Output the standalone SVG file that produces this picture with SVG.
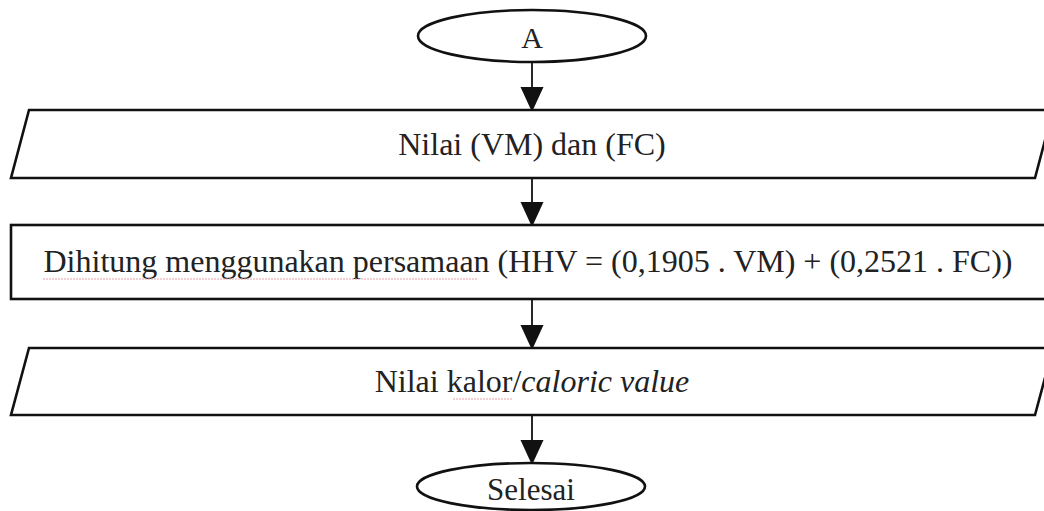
<svg xmlns="http://www.w3.org/2000/svg" width="1044" height="511" viewBox="0 0 1044 511">
<defs>
<style>
.shape{fill:#fff;stroke:#111;stroke-width:2.6}
.lbl{font-family:"Liberation Serif","Times New Roman",serif;font-size:32px;fill:#222;text-anchor:middle}
.conn{stroke:#111;stroke-width:1.8;fill:none}
.spell{stroke:#e8a0a8;stroke-width:1;fill:none;stroke-dasharray:2 1}
</style>
<marker id="arr" markerWidth="23" markerHeight="25" refX="23" refY="11.5" orient="auto" markerUnits="userSpaceOnUse">
<path d="M0,0 L25,11.5 L0,23 Z" fill="#111"/>
</marker>
</defs>
<rect width="1044" height="511" fill="#fff"/>
<g id="connectors">
<line class="conn" x1="532" y1="62" x2="532" y2="110" marker-end="url(#arr)"/>
<line class="conn" x1="532" y1="178" x2="532" y2="225" marker-end="url(#arr)"/>
<line class="conn" x1="532" y1="299" x2="532" y2="348" marker-end="url(#arr)"/>
<line class="conn" x1="532" y1="415" x2="532" y2="463" marker-end="url(#arr)"/>
</g>
<g id="start">
<ellipse class="shape" cx="532" cy="36" rx="114" ry="26"/>
<text class="lbl" x="532" y="48" style="font-size:30px">A</text>
</g>
<g id="input1">
<polygon class="shape" points="29,110 1053,110 1035,178 11,178"/>
<text class="lbl" x="532" y="155">Nilai (VM) dan (FC)</text>
</g>
<g id="process">
<rect class="shape" x="11" y="225" width="1045" height="74"/>
<text class="lbl" x="528" y="272">Dihitung menggunakan persamaan (HHV = (0,1905 . VM) + (0,2521 . FC))</text>
<line class="spell" x1="43" y1="279" x2="478" y2="279"/>
</g>
<g id="output1">
<polygon class="shape" points="29,348 1053,348 1035,415 11,415"/>
<text class="lbl" x="532" y="392">Nilai kalor/<tspan font-style="italic">caloric value</tspan></text>
<line class="spell" x1="453" y1="399" x2="512" y2="399"/>
</g>
<g id="end">
<ellipse class="shape" cx="531" cy="486.5" rx="114" ry="23.5"/>
<text class="lbl" x="531" y="500" style="font-size:31px">Selesai</text>
</g>
</svg>
